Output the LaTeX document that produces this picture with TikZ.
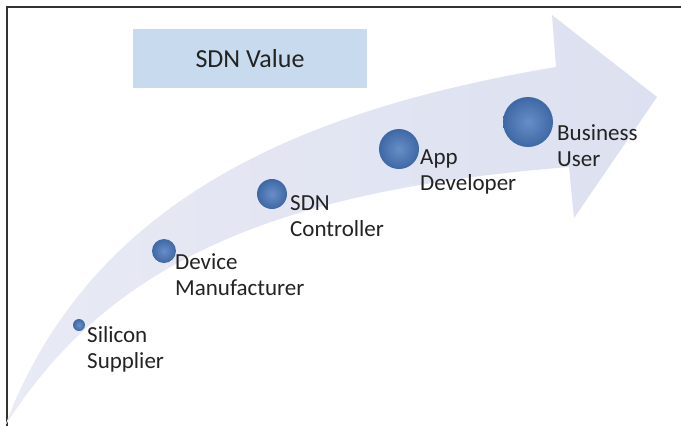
\documentclass[tikz,border=0pt]{standalone}
\usepackage{fontspec}
\setmainfont{Carlito}
\definecolor{arrowA}{RGB}{232,234,244}
\definecolor{arrowB}{RGB}{220,224,240}
\definecolor{boxfill}{RGB}{200,219,238}
\definecolor{ballin}{RGB}{104,142,198}
\definecolor{ballout}{RGB}{62,104,165}
\definecolor{txt}{RGB}{35,35,35}
\definecolor{frame}{RGB}{50,50,50}
\tikzset{
  ballnode/.style={circle, inner sep=0pt, draw=none, inner color=ballin, outer color=ballout},
  lbl/.style={anchor=base west, inner sep=0pt, align=left, text=txt,
              font=\fontsize{23}{26}\selectfont},
  titlebox/.style={rectangle, fill=boxfill, draw=none, minimum width=234pt,
              minimum height=59pt, inner sep=0pt, text=txt,
              font=\fontsize{26}{31}\selectfont}
}
\begin{document}
\begin{tikzpicture}[x=1pt,y=-1pt]
\useasboundingbox (0,0) rectangle (681,426);
\fill[white] (0,0) rectangle (681,426);
% frame
\coordinate (fl) at (7,426);
\coordinate (fc) at (7,7);
\coordinate (fr) at (681,7);
\draw[frame, line width=1.5pt] (fl) -- (fc) -- (fr);
% arrow
\coordinate (tail) at (5,426);
\coordinate (lowin) at (569,167);
\coordinate (headbot) at (574,218);
\coordinate (tip) at (657,97);
\coordinate (headtop) at (552,15);
\coordinate (upin) at (556,67);
\shade[left color=arrowA, right color=arrowB]
  (tail) .. controls (110,260) and (280,190) .. (lowin)
  -- (headbot) -- (tip) -- (headtop) -- (upin)
  .. controls (300,110) and (90,200) .. (tail) -- cycle;
% title
\node[titlebox] (title) at (250,58.5) {SDN Value};
% balls
\node[ballnode, minimum size=12pt] (b1) at (79,325) {};
\node[ballnode, minimum size=24pt] (b2) at (164,251) {};
\node[ballnode, minimum size=30pt] (b3) at (272,194) {};
\node[ballnode, minimum size=40pt] (b4) at (399,149) {};
\node[ballnode, minimum size=50pt] (b5) at (528,122) {};
% labels (anchored at the baseline of the last line)
\node[lbl] (l1) at (87,368) {Silicon\\Supplier};
\node[lbl] (l2) at (175,295) {Device\\Manufacturer};
\node[lbl] (l3) at (290,236) {SDN\\Controller};
\node[lbl] (l4) at (420,190) {App\\Developer};
\node[lbl] (l5) at (557,166) {Business\\User};
\end{tikzpicture}
\end{document}
